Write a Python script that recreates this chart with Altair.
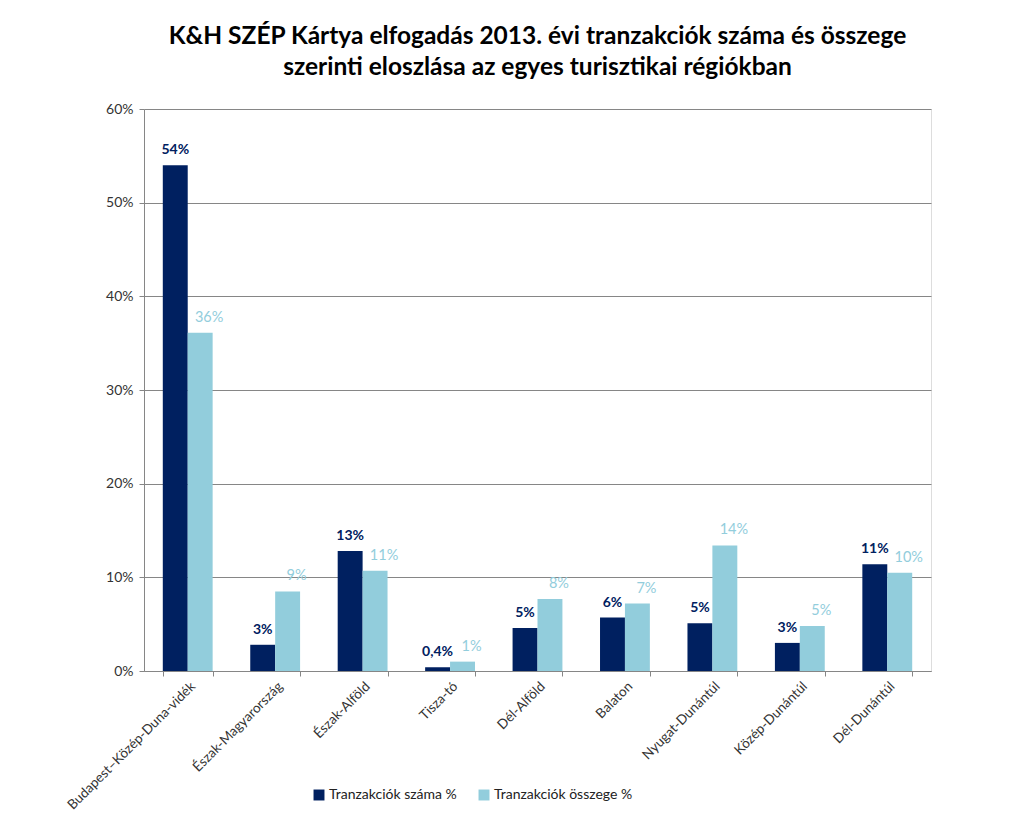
import altair as alt
import pandas as pd

regions = ["Budapest–Közép-Duna-vidék", "Észak-Magyarország", "Észak-Alföld", "Tisza-tó",
           "Dél-Alföld", "Balaton", "Nyugat-Dunántúl", "Közép-Dunántúl", "Dél-Dunántúl"]
count_pct = [54.0, 2.8, 12.8, 0.4, 4.6, 5.7, 5.1, 3.0, 11.4]
amount_pct = [36.1, 8.5, 10.7, 1.0, 7.7, 7.2, 13.4, 4.8, 10.5]
count_labels = ["54%", "3%", "13%", "0,4%", "5%", "6%", "5%", "3%", "11%"]
amount_labels = ["36%", "9%", "11%", "1%", "8%", "7%", "14%", "5%", "10%"]
series = ["Tranzakciók száma %", "Tranzakciók összege %"]
y_ticks = [0, 10, 20, 30, 40, 50, 60]
title_lines = ["K&H SZÉP Kártya elfogadás 2013. évi tranzakciók száma és összege",
               "szerinti eloszlása az egyes turisztikai régiókban"]

rows = []
for r, c, a, cl, al in zip(regions, count_pct, amount_pct, count_labels, amount_labels):
    rows.append({"region": r, "series": series[0], "value": c, "label": cl})
    rows.append({"region": r, "series": series[1], "value": a, "label": al})
df = pd.DataFrame(rows)

FONT = "Lato"
DARK = "#002060"
LIGHT = "#92CDDC"

x_enc = alt.X("region:N", sort=regions, title=None,
              scale=alt.Scale(paddingInner=0.43, paddingOuter=0.215),
              axis=alt.Axis(labelAngle=-45, labelFontSize=13.5, labelFont=FONT, labelColor="#333333",
                            domainColor="#868686", tickColor="#868686", tickSize=5, labelLimit=400,
                            tickBand="extent", labelPadding=3, grid=False))
xo_enc = alt.XOffset("series:N", sort=series, scale=alt.Scale(paddingInner=0, paddingOuter=0))
y_enc = alt.Y("value:Q", title=None,
              scale=alt.Scale(domain=[0, 60], nice=False),
              axis=alt.Axis(values=y_ticks, labelExpr="datum.value + '%'", labelFontSize=14,
                            labelFont=FONT, labelColor="#333333", domainColor="#868686",
                            tickColor="#868686", tickSize=5, gridColor="#868686",
                            labelPadding=6))

base = alt.Chart(df)

bars = base.mark_bar().encode(
    x=x_enc, xOffset=xo_enc, y=y_enc,
    color=alt.Color("series:N", sort=series, title=None,
                    scale=alt.Scale(domain=series, range=[DARK, LIGHT]),
                    legend=alt.Legend(orient="none", legendX=168, legendY=679, direction="horizontal",
                                      symbolType="square", symbolSize=120, symbolStrokeWidth=0,
                                      labelFont=FONT, labelFontSize=14, labelColor="#222222",
                                      columnPadding=20, symbolOffset=0, labelOffset=3)),
)

dark_text = base.transform_filter(alt.datum.series == series[0]).mark_text(
    baseline="bottom", dy=-8, font=FONT, fontSize=14, fontWeight="bold", color=DARK
).encode(x=alt.X("region:N", sort=regions), xOffset=xo_enc, y="value:Q", text="label:N")

light_text = base.transform_filter(alt.datum.series == series[1]).mark_text(
    baseline="bottom", dy=-8, dx=9, font=FONT, fontSize=14.5, fontWeight="normal", color=LIGHT
).encode(x=alt.X("region:N", sort=regions), xOffset=xo_enc, y="value:Q", text="label:N")

chart = alt.layer(bars, dark_text, light_text).properties(
    width=787, height=562,
    autosize=alt.AutoSizeParams(type="none"),
    padding={"left": 136, "top": 101, "right": 90, "bottom": 148},
    title=alt.TitleParams(text=title_lines, font=FONT, fontSize=24.5, fontWeight="bold",
                          color="#000000", anchor="middle", offset=22, lineHeight=31),
).configure_view(stroke=None).configure(background="white")

chart.save("out.html", embed_options={"renderer": "svg", "actions": False})
